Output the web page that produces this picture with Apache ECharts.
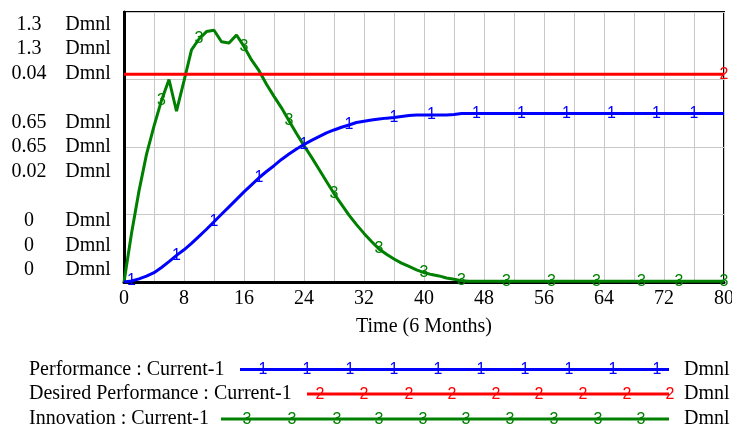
<!DOCTYPE html>
<html>
<head>
<meta charset="utf-8">
<script src="https://cdn.jsdelivr.net/npm/echarts@6/dist/echarts.min.js"></script>
<style>html,body{margin:0;padding:0;background:#fff}#c{width:732px;height:430px}</style>
</head>
<body>
<div id="c"></div>
<script>
// ---------------- DATA ----------------
const time = [0,1,2,3,4,5,6,7,8,9,10,11,12,13,14,15,16,17,18,19,20,21,22,23,24,25,26,27,28,29,30,31,32,33,34,35,36,37,38,39,40,41,42,43,44,45,46,47,48,49,50,51,52,53,54,55,56,57,58,59,60,61,62,63,64,65,66,67,68,69,70,71,72,73,74,75,76,77,78,79,80];
const performance = [0,0.005,0.015,0.028,0.045,0.070,0.098,0.128,0.155,0.186,0.220,0.254,0.290,0.326,0.362,0.398,0.434,0.468,0.502,0.532,0.560,0.590,0.616,0.640,0.662,0.682,0.700,0.718,0.732,0.745,0.756,0.768,0.774,0.780,0.785,0.789,0.792,0.797,0.802,0.804,0.804,0.804,0.804,0.804,0.806,0.811,0.811,0.811,0.811,0.811,0.811,0.811,0.811,0.811,0.811,0.811,0.811,0.811,0.811,0.811,0.811,0.811,0.811,0.811,0.811,0.811,0.811,0.811,0.811,0.811,0.811,0.811,0.811,0.811,0.811,0.811,0.811,0.811,0.811,0.811,0.811];
const desiredPerformance = [1,1,1,1,1,1,1,1,1,1,1,1,1,1,1,1,1,1,1,1,1,1,1,1,1,1,1,1,1,1,1,1,1,1,1,1,1,1,1,1,1,1,1,1,1,1,1,1,1,1,1,1,1,1,1,1,1,1,1,1,1,1,1,1,1,1,1,1,1,1,1,1,1,1,1,1,1,1,1,1,1];
const innovation = [0,0.0072,0.0135,0.0189,0.0231,0.0269,0.0300,0.0253,0.0298,0.0344,0.0360,0.0371,0.0373,0.0356,0.0354,0.0366,0.0349,0.0329,0.0313,0.0293,0.0275,0.0258,0.0239,0.0220,0.0202,0.0185,0.0167,0.0149,0.0131,0.0115,0.0099,0.0085,0.0072,0.0060,0.0049,0.0041,0.0034,0.0028,0.0023,0.0018,0.0014,0.0011,0.0009,0.0006,0.0004,0.0002,0.0001,0.0001,0.0001,0.0001,0.0001,0.0001,0.0001,0.0001,0.0001,0.0001,0.0001,0.0001,0.0001,0.0001,0.0001,0.0001,0.0001,0.0001,0.0001,0.0001,0.0001,0.0001,0.0001,0.0001,0.0001,0.0001,0.0001,0.0001,0.0001,0.0001,0.0001,0.0001,0.0001,0.0001,0.0001];

const perfMarkerTimes = [1,7,12,18,24,30,36,41,47,53,59,65,71,76];
const desiredMarkerTimes = [80];
const innovMarkerTimes = [5,10,16,22,28,34,40,45,51,57,63,69,74,80];

const xTickLabels = ['0','8','16','24','32','40','48','56','64','72','80'];
const perfTickLabels = ['0','0.65','1.3'];
const desiredTickLabels = ['0','0.65','1.3'];
const innovTickLabels = ['0','0.02','0.04'];
const unitLabel = 'Dmnl';
const xAxisName = 'Time (6 Months)';
const seriesNames = ['Performance : Current-1','Desired Performance : Current-1','Innovation : Current-1'];
const markerTexts = ['1','2','3'];

// ---------------- STYLE / LAYOUT ----------------
const SERIF = '"Liberation Serif","Times New Roman",serif';
const SANS = '"Liberation Sans",Arial,sans-serif';
const COLORS = ['#0000ff','#ff0000','#008000'];
const FS = 20;
const LH = 24.5;
const MFS = 16;

function pairs(vals){ return time.map((t,i)=>[t, vals[i]]); }
function markerPairs(times, vals){ return times.map(t=>[t, vals[time.indexOf(t)]]); }

function yLabel(value){
  const k = Math.round(value/0.65);
  if (Math.abs(value - k*0.65) > 1e-6) return '';
  const rows = [perfTickLabels[k], desiredTickLabels[k], innovTickLabels[k]]
    .map(v => '{v|' + v + '}{s| }{u|' + unitLabel + '}');
  if (k === 2) return '\n\n\n' + rows.join('\n');
  if (k === 0) return rows.join('\n') + '\n\n\n';
  return rows.join('\n');
}

function markerSeries(name, times, vals, idx, yAxisIndex){
  return {
    name: name + ' markers', type: 'scatter', yAxisIndex: yAxisIndex,
    data: markerPairs(times, vals), symbol: 'circle', symbolSize: 2,
    itemStyle: {color: 'rgba(0,0,0,0)'}, z: 5, silent: true,
    label: {show: true, position: 'inside', formatter: markerTexts[idx],
      color: COLORS[idx], fontFamily: SANS, fontSize: MFS, opacity: 1}
  };
}

// legend layout (Vensim style: name, line with markers, unit)
const legendRowsY = [369.5, 394, 419];
const legendLineStart = [240, 307, 221];
const legendLineEnd = 669;
const legendMarkerX = [
  [263,307,350,394,438,481,525,569,613,657],
  [320,364,409,452,496,539,583,627,670],
  [247,292,337,379,423,466,510,554,598,641]
];
const graphics = [];
for (let r = 0; r < 3; r++){
  const y = legendRowsY[r];
  graphics.push({type:'text', x: 29, y: y, style:{text: seriesNames[r], fontFamily: SERIF, fontSize: FS, fill:'#000', align:'left', verticalAlign:'middle'}});
  graphics.push({type:'line', shape:{x1: legendLineStart[r], y1: y, x2: legendLineEnd, y2: y}, style:{stroke: COLORS[r], lineWidth: 3}});
  legendMarkerX[r].forEach(x => graphics.push({type:'text', x: x, y: y + 0.5, style:{text: markerTexts[r], fontFamily: SANS, fontSize: MFS, fill: COLORS[r], align:'center', verticalAlign:'middle'}}));
  graphics.push({type:'text', x: 684, y: y, style:{text: unitLabel, fontFamily: SERIF, fontSize: FS, fill:'#000', align:'left', verticalAlign:'middle'}});
}

const chart = echarts.init(document.getElementById('c'), null, {renderer:'canvas'});
chart.setOption({
  animation: false,
  backgroundColor: '#fff',
  grid: {left: 124, right: 8, top: 12, bottom: 148, show: true, borderColor: '#000', borderWidth: 2,
    backgroundColor: 'transparent', containLabel: false, outerBoundsMode: 'none'},
  xAxis: {
    type: 'value', min: 0, max: 80, interval: 4,
    name: xAxisName, nameLocation: 'middle', nameGap: 35,
    nameTextStyle: {fontFamily: SERIF, fontSize: FS, color: '#000'},
    axisLine: {show: true, lineStyle: {color: '#000', width: 3}},
    axisTick: {show: false},
    splitLine: {show: true, lineStyle: {color: '#c8c8c8', width: 1}},
    axisLabel: {margin: 7, fontFamily: SERIF, fontSize: FS, color: '#000',
      formatter: v => (v % 8 === 0 ? xTickLabels[v/8] : '')}
  },
  yAxis: [
    {
      type: 'value', min: 0, max: 1.3, interval: 0.325,
      axisLine: {show: true, lineStyle: {color: '#000', width: 3}},
      axisTick: {show: false},
      splitLine: {show: true, lineStyle: {color: '#c8c8c8', width: 1}},
      axisLabel: {
        margin: 14, lineHeight: LH, fontFamily: SERIF, fontSize: FS, color: '#000',
        formatter: yLabel,
        rich: {
          v: {fontFamily: SERIF, fontSize: FS, color: '#000', width: 40, align: 'right', lineHeight: LH},
          s: {fontFamily: SERIF, fontSize: FS, width: 17, lineHeight: LH},
          u: {fontFamily: SERIF, fontSize: FS, color: '#000', width: 44, align: 'left', lineHeight: LH}
        }
      }
    },
    {type: 'value', min: 0, max: 0.04, interval: 0.01, show: false, splitLine: {show: false}}
  ],
  series: [
    {name: seriesNames[2], type: 'line', yAxisIndex: 1, data: pairs(innovation), symbol: 'none',
      lineStyle: {color: COLORS[2], width: 3}, itemStyle: {color: COLORS[2]}, z: 2},
    {name: seriesNames[0], type: 'line', yAxisIndex: 0, data: pairs(performance), symbol: 'none',
      lineStyle: {color: COLORS[0], width: 3}, itemStyle: {color: COLORS[0]}, z: 3},
    {name: seriesNames[1], type: 'line', yAxisIndex: 0, data: pairs(desiredPerformance), symbol: 'none',
      lineStyle: {color: COLORS[1], width: 3}, itemStyle: {color: COLORS[1]}, z: 4},
    markerSeries(seriesNames[0], perfMarkerTimes, performance, 0, 0),
    markerSeries(seriesNames[1], desiredMarkerTimes, desiredPerformance, 1, 0),
    markerSeries(seriesNames[2], innovMarkerTimes, innovation, 2, 1)
  ],
  graphic: graphics
});
</script>
</body>
</html>
